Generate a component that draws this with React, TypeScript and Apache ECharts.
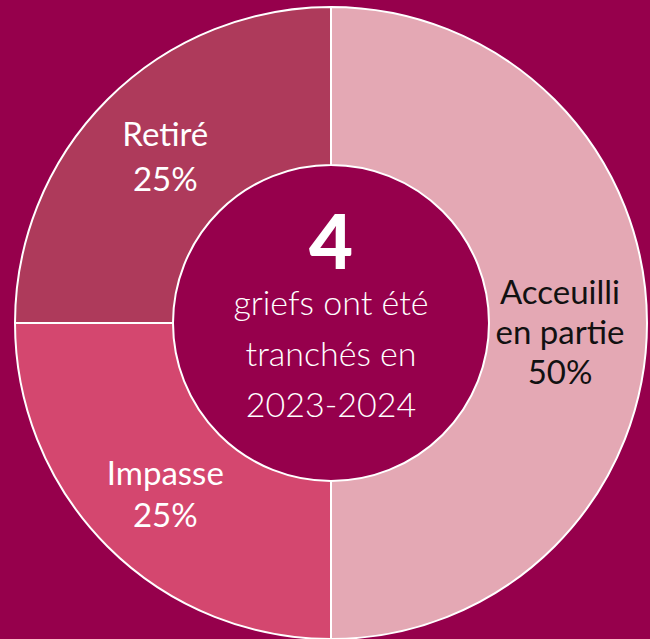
import React, { useEffect, useRef } from "react";
import * as echarts from "echarts";

const categories = ["Acceuilli\nen partie", "Impasse", "Retiré"];
const values = [2, 1, 1];
const colors = ["#E4A8B4", "#D4476F", "#AE3A5B"];
const labelColors = ["#111111", "#FFFFFF", "#FFFFFF"];
const centerNumber = "4";
const centerLines = ["griefs ont été", "tranchés en", "2023-2024"];

export default function App() {
  const ref = useRef<HTMLDivElement>(null);
  useEffect(() => {
    const chart = echarts.init(ref.current!, undefined, { renderer: "svg" });
    const cx = 331;
    const cy = 323;
    const offsets = [[-11, 8], [4, 0], [4, 2]];
    const lineHeights = [40, 42, 45];
    chart.setOption({
      animation: false,
      backgroundColor: "#96004C",
      series: [
        {
          type: "pie",
          center: [cx, cy],
          radius: [158, 316],
          startAngle: 90,
          clockwise: true,
          avoidLabelOverlap: false,
          itemStyle: { borderColor: "#FFFFFF", borderWidth: 2 },
          label: {
            show: true,
            position: "inside",
            formatter: (p: any) => `${p.name}\n${Math.round(p.percent)}%`,
            fontFamily: "Lato",
            fontSize: 33,
            lineHeight: 40,
          },
          labelLine: { show: false },
          data: categories.map((c, i) => ({
            name: c,
            value: values[i],
            itemStyle: { color: colors[i] },
            label: { color: labelColors[i], offset: offsets[i], lineHeight: lineHeights[i] },
          })),
        },
      ],
      graphic: [
        {
          type: "text",
          x: cx,
          y: 239,
          style: {
            text: centerNumber,
            fill: "#FFFFFF",
            font: "900 76px Lato",
            align: "center",
            verticalAlign: "middle",
            shadowBlur: 3,
            shadowColor: "rgba(0,0,0,0.4)",
            shadowOffsetX: 1,
            shadowOffsetY: 1,
          },
        },
        ...centerLines.map((t, i) => ({
          type: "text",
          x: cx,
          y: 301 + i * 51,
          style: {
            text: t,
            fill: "#FFFFFF",
            font: "300 34px Lato",
            align: "center",
            verticalAlign: "middle",
            shadowBlur: 3,
            shadowColor: "rgba(0,0,0,0.35)",
            shadowOffsetX: 1,
            shadowOffsetY: 1,
          },
        })),
      ],
    });
    return () => chart.dispose();
  }, []);
  return (
    <div
      ref={ref}
      style={{ position: "absolute", left: 0, top: 0, width: 650, height: 639 }}
    />
  );
}
